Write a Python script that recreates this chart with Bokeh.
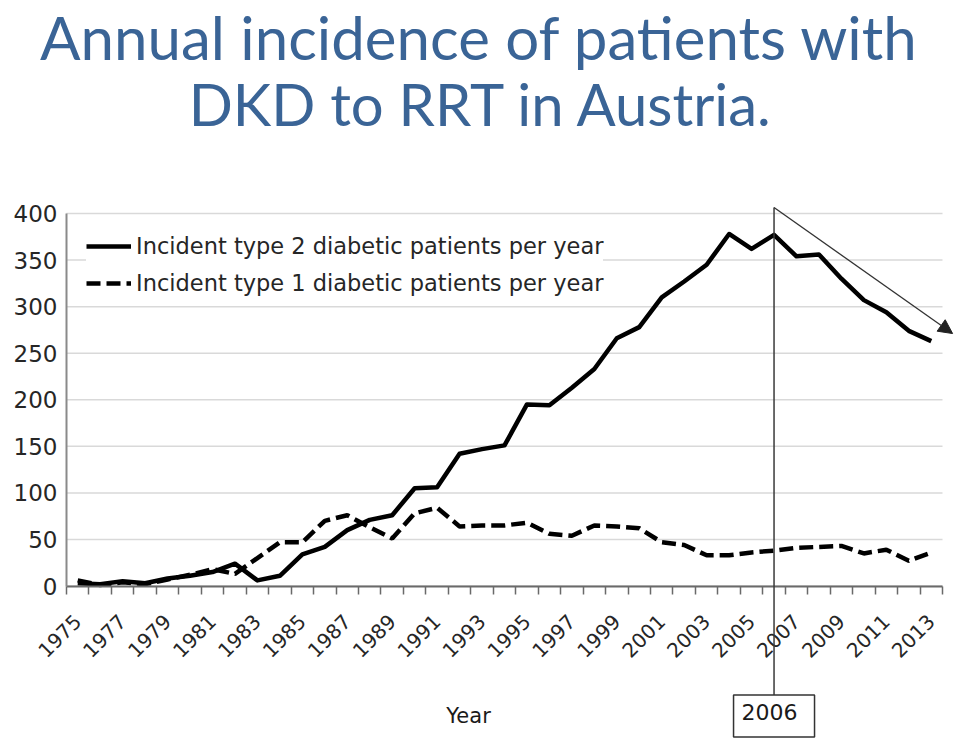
import math
from bokeh.plotting import figure
from bokeh.models import (FixedTicker, Legend, LegendItem, Label, Arrow, NormalHead,
                          Range1d, ColumnDataSource)
from bokeh.embed import file_html
from bokeh.resources import INLINE

# ---------------- data ----------------
years = list(range(1975, 2014))
type2 = [3, 2, 5, 3, 8, 11, 15, 24, 6, 11,
         34, 42, 60, 71, 76, 105, 106, 142, 147, 151,
         195, 194, 213, 233, 266, 278, 310, 327, 345, 378,
         362, 377, 354, 356, 330, 307, 294, 274, 263]
type1 = [6, 1, 4, 2, 7, 12, 18, 13, 30, 47,
         47, 70, 76, 63, 51, 78, 84, 64, 65, 65,
         68, 56, 54, 65, 64, 62, 47, 44, 33, 33,
         36, 38, 41, 42, 43, 35, 39, 27, 36]
label_years = list(range(1975, 2014, 2))
y_ticks = [0, 50, 100, 150, 200, 250, 300, 350, 400]
legend_labels = ["Incident type 2 diabetic patients per year",
                 "Incident type 1 diabetic patients per year"]
title_lines = ["Annual incidence of patients with", "DKD to RRT in Austria."]
x_title = "Year"
marker_year = 2006

# ---------------- view geometry ----------------
W, H = 960, 745
x_lo, x_hi = years[0] - 0.5, years[-1] + 0.5
px_per_year = (942 - 66) / (x_hi - x_lo)
px_per_unit = (585.5 - 213) / 400.0
x_start = x_lo - 66 / px_per_year
x_end = x_hi + (W - 942) / px_per_year
y_end = 585.5 / px_per_unit
y_start = -(H - 585.5) / px_per_unit

src = ColumnDataSource(dict(year=years, t2=type2, t1=type1))

p = figure(width=W, height=H, output_backend="svg", toolbar_location=None,
           x_range=Range1d(x_start, x_end), y_range=Range1d(y_start, y_end),
           min_border=0, min_border_left=0, min_border_right=0,
           min_border_top=0, min_border_bottom=0)
p.outline_line_color = None
p.background_fill_color = "white"
p.border_fill_color = "white"
p.xgrid.visible = False
p.ygrid.visible = False

# horizontal grid lines limited to the category span
p.segment(x0=[x_lo] * len(y_ticks), x1=[x_hi] * len(y_ticks), y0=y_ticks, y1=y_ticks,
          line_color="#d9d9d9", line_width=1.5)

# y axis
p.yaxis.fixed_location = x_lo
p.yaxis.bounds = (0, 400)
p.yaxis.ticker = FixedTicker(ticks=y_ticks)
p.yaxis.axis_line_color = "#8a8a8a"
p.yaxis.axis_line_width = 2
p.yaxis.major_tick_line_color = None
p.yaxis.major_tick_out = 0
p.yaxis.major_tick_in = 0
p.yaxis.minor_tick_line_color = None
p.yaxis.major_label_text_font = "DejaVu Sans"
p.yaxis.major_label_text_font_size = "23px"
p.yaxis.major_label_text_color = "#262626"
p.yaxis.major_label_standoff = 9

# x axis
bounds = [y - 0.5 for y in years] + [years[-1] + 0.5]
p.xaxis.fixed_location = 0
p.xaxis.bounds = (x_lo, x_hi)
p.xaxis.ticker = FixedTicker(ticks=label_years, minor_ticks=bounds)
p.xaxis.axis_line_color = "#6a6a6a"
p.xaxis.axis_line_width = 2
p.xaxis.major_tick_line_color = None
p.xaxis.major_tick_out = 0
p.xaxis.major_tick_in = 0
p.xaxis.minor_tick_line_color = "#6a6a6a"
p.xaxis.minor_tick_line_width = 1.5
p.xaxis.minor_tick_in = 0
p.xaxis.minor_tick_out = 8
p.xaxis.major_label_orientation = math.pi / 4
p.xaxis.major_label_text_font = "DejaVu Sans"
p.xaxis.major_label_text_font_size = "20px"
p.xaxis.major_label_text_color = "#262626"
p.xaxis.major_label_standoff = 24

r2 = p.line("year", "t2", source=src, line_color="black", line_width=4.5,
            line_join="round")
r1 = p.line("year", "t1", source=src, line_color="black", line_width=4.5,
            line_dash="14 6")

legend = Legend(items=[LegendItem(label=legend_labels[0], renderers=[r2]),
                       LegendItem(label=legend_labels[1], renderers=[r1])],
                location=(86, 449), orientation="vertical",
                label_text_font="DejaVu Sans", label_text_font_size="22.5px",
                label_text_color="#262626", glyph_width=45, glyph_height=22,
                label_height=22, spacing=11, padding=4, margin=0,
                border_line_color=None, background_fill_color="white",
                background_fill_alpha=1.0, label_standoff=5)
p.add_layout(legend, "center")

# title (anchor rows in pixels, converted to data units)
for txt, bx, by_px, fs in [(title_lines[0], 1992.89, 36, "60px"),
                           (title_lines[1], 1992.98, 103, "58px")]:
    p.add_layout(Label(x=bx, y=(585.5 - by_px) / px_per_unit, text=txt,
                       text_align="center", text_baseline="alphabetic",
                       text_font="Lato", text_font_size=fs, text_color="#3A6496"))

# vertical marker line and trend arrow
p.add_layout(Arrow(end=None, x_start=marker_year, y_start=406.4,
                   x_end=marker_year, y_end=-118.7, line_color="#3a3a3a", line_width=1.5))
p.add_layout(Arrow(end=NormalHead(size=14, fill_color="#222222", line_color="#222222"),
                   x_start=marker_year, y_start=406.4, x_end=2013.95, y_end=271.1,
                   line_color="#333333", line_width=1.3))

p.add_layout(Label(x=1992.4, y=-139.5, text=x_title, text_align="center",
                   text_baseline="middle", text_font="DejaVu Sans",
                   text_font_size="21px", text_color="#1a1a1a"))
p.add_layout(Label(x=marker_year, y=-139.6, text=str(marker_year), text_align="center",
                   text_baseline="middle", text_font="DejaVu Sans",
                   text_font_size="22px", text_color="#1a1a1a",
                   border_line_color="#333333", border_line_width=1.5,
                   background_fill_color="white", padding=(8, 17, 9, 17)))

open("out.html", "w").write(file_html(p, INLINE))
